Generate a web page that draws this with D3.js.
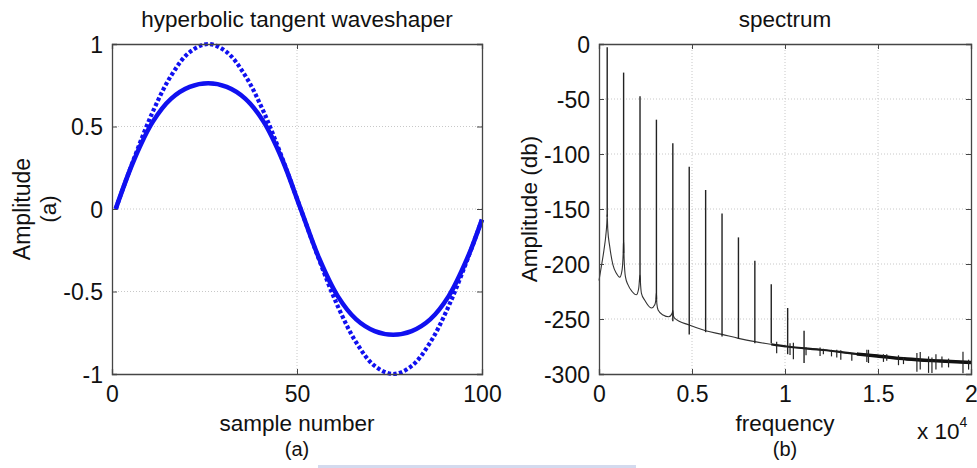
<!DOCTYPE html>
<html>
<head>
<meta charset="utf-8">
<script src="https://cdn.jsdelivr.net/npm/d3@7"></script>
<style>
  html, body { margin: 0; padding: 0; background: #fff; }
  svg { display: block; }
  text { font-family: "Liberation Sans", Arial, Helvetica, sans-serif; fill: #111; }
</style>
</head>
<body>
<svg id="chart" width="977" height="468"></svg>
<script>
// ---------- Data: left panel (waveshaper) ----------
const sampleNumbers = [1, 6, 11, 16, 21, 26, 31, 36, 41, 46, 51, 56, 61, 66, 71, 76, 81, 86, 91, 96, 100];
const inputSine     = [0, 0.309, 0.588, 0.809, 0.951, 1.0, 0.951, 0.809, 0.588, 0.309, 0, -0.309, -0.588, -0.809, -0.951, -1.0, -0.951, -0.809, -0.588, -0.309, -0.063];
const shapedOutput  = [0, 0.300, 0.528, 0.669, 0.740, 0.762, 0.740, 0.669, 0.528, 0.300, 0, -0.300, -0.528, -0.669, -0.740, -0.762, -0.740, -0.669, -0.528, -0.300, -0.063];
const leftXTicks = [0, 50, 100];
const leftYTicks = [-1, -0.5, 0, 0.5, 1];

// ---------- Data: right panel (spectrum) ----------
const harmonicFreqs  = [441, 1323, 2205, 3087, 3969, 4851, 5733, 6615, 7497, 8379, 9261, 10143, 11025];
const harmonicPeakDb = [-3, -26, -47.6, -68.8, -90.3, -111.5, -132.7, -154, -175.8, -197, -218.5, -240, -260.6];
const harmonicBaseDb = [-157, -190, -215, -232, -252, -264, -262, -266, -268, -272, -272, -282, -290];

const floorFreqs = [0, 129, 270, 361, 420, 441, 470, 576, 754, 934, 1115, 1240, 1300, 1323, 1350, 1420, 1562, 1777, 2013, 2137, 2205, 2240, 2282, 2461, 2820, 3000, 3070, 3087, 3110, 3177, 3446, 3753, 3931, 3969, 4000, 4076, 4851, 5733, 6615, 7497, 8379, 9261, 10090, 12063, 13860, 14940, 16553, 18350, 20000];
const floorDb    = [-215, -202, -187, -175, -163, -155, -168, -184, -201, -208.5, -212, -205.5, -190, -178, -195, -211.5, -219, -225, -228, -222, -210, -220, -226.6, -233, -240, -237, -230, -226, -236, -241.8, -246.4, -248, -244.8, -242, -247, -249.4, -255.5, -260.6, -264, -267.6, -270.6, -273, -275, -278.2, -281.8, -283.6, -286.4, -288.2, -289.6];

const noiseFreqs  = [9552, 10270, 10450, 11131, 11885, 12063, 12500, 12784, 13000, 13592, 14400, 14490, 15294, 15470, 16101, 16370, 17092, 17270, 17718, 17900, 18115, 18438, 18793, 19569, 19870];
const noiseHighDb = [-270.6, -272, -271.5, -276, -276, -277, -278, -278, -278.5, -281, -278, -278, -282, -282, -283, -285, -281, -280, -284, -285, -282, -284, -286, -279.7, -287];
const noiseLowDb  = [-281.2, -282.7, -286.6, -283, -283.6, -282, -284, -285, -287, -288, -289, -290, -289, -288, -292, -291, -298, -296, -299, -299, -296, -294, -294, -299.4, -296];

const rightXTicks = [0, 5000, 10000, 15000, 20000];
const rightXTickLabels = ["0", "0.5", "1", "1.5", "2"];
const rightYTicks = [-300, -250, -200, -150, -100, -50, 0];

// ---------- Layout ----------
const svg = d3.select("#chart");
const FONT = 22.5;
const TICKFONT = 23;
const frameColor = "#454545";
const gridColor = "#c8c8c8";

function panel(opts) {
  const { x0, x1, y0, y1, xScale, yScale, xTicks, yTicks } = opts;
  const g = svg.append("g");
  g.selectAll("line.vg").data(xTicks.filter(t => t !== xScale.domain()[0] && t !== xScale.domain()[1]))
    .join("line").attr("x1", d => xScale(d)).attr("x2", d => xScale(d)).attr("y1", y0).attr("y2", y1)
    .attr("stroke", gridColor).attr("stroke-width", 1).attr("stroke-dasharray", "1,2");
  g.selectAll("line.hg").data(yTicks.filter(t => t !== yScale.domain()[0] && t !== yScale.domain()[1]))
    .join("line").attr("y1", d => yScale(d)).attr("y2", d => yScale(d)).attr("x1", x0).attr("x2", x1)
    .attr("stroke", gridColor).attr("stroke-width", 1).attr("stroke-dasharray", "1,2");
  return g;
}

function frame(opts) {
  const { x0, x1, y0, y1, xScale, yScale, xTicks, yTicks, xFmt, yFmt } = opts;
  const g = svg.append("g");
  const tl = 5;
  const bottom = d3.axisBottom(xScale).tickValues(xTicks).tickSize(-tl).tickFormat(xFmt).tickPadding(12);
  const top = d3.axisTop(xScale).tickValues(xTicks).tickSize(-tl).tickFormat("");
  const left = d3.axisLeft(yScale).tickValues(yTicks).tickSize(-tl).tickFormat(yFmt).tickPadding(9);
  const right = d3.axisRight(yScale).tickValues(yTicks).tickSize(-tl).tickFormat("");
  const gb = g.append("g").attr("transform", `translate(0,${y1})`).call(bottom);
  const gt = g.append("g").attr("transform", `translate(0,${y0})`).call(top);
  const gl = g.append("g").attr("transform", `translate(${x0},0)`).call(left);
  const gr = g.append("g").attr("transform", `translate(${x1},0)`).call(right);
  [gb, gt, gl, gr].forEach(a => {
    a.select(".domain").attr("stroke", frameColor).attr("stroke-width", 1.3);
    a.selectAll(".tick line").attr("stroke", frameColor).attr("stroke-width", 1);
    a.selectAll("text").attr("font-size", TICKFONT).attr("fill", "#111")
      .attr("font-family", '"Liberation Sans", Arial, sans-serif');
  });
  gb.selectAll("text").attr("dy", "0.71em");
  gl.selectAll("text").attr("dy", "0.36em");
  return g;
}

// ---------- Left panel ----------
const L = { x0: 112, x1: 482, y0: 44, y1: 374 };
const lx = d3.scaleLinear().domain([0, 100]).range([L.x0, L.x1]);
const ly = d3.scaleLinear().domain([-1, 1]).range([L.y1, L.y0]);
const lopts = { ...L, xScale: lx, yScale: ly, xTicks: leftXTicks, yTicks: leftYTicks,
  xFmt: d => String(d), yFmt: d => String(d) };
panel(lopts);

const leftLine = d3.line().x((d, i) => lx(sampleNumbers[i])).y(d => ly(d)).curve(d3.curveCatmullRom);
const lg = svg.append("g");
lg.append("path").datum(inputSine).attr("d", leftLine)
  .attr("fill", "none").attr("stroke", "#1010f0").attr("stroke-width", 4.2)
  .attr("stroke-dasharray", "3.5,2.3");
lg.append("path").datum(shapedOutput).attr("d", leftLine)
  .attr("fill", "none").attr("stroke", "#1010f0").attr("stroke-width", 4.6)
  .attr("stroke-linejoin", "round");
frame(lopts);

svg.append("text").attr("x", (L.x0 + L.x1) / 2).attr("y", 27).attr("text-anchor", "middle")
  .attr("font-size", FONT).text("hyperbolic tangent waveshaper");
svg.append("text").attr("x", (L.x0 + L.x1) / 2).attr("y", 431).attr("text-anchor", "middle")
  .attr("font-size", FONT).text("sample number");
svg.append("text").attr("x", (L.x0 + L.x1) / 2).attr("y", 456).attr("text-anchor", "middle")
  .attr("font-size", 20).text("(a)");
svg.append("text").attr("transform", `translate(30,${(L.y0 + L.y1) / 2}) rotate(-90)`)
  .attr("text-anchor", "middle").attr("font-size", 23).text("Amplitude");
svg.append("text").attr("transform", `translate(56,${(L.y0 + L.y1) / 2}) rotate(-90)`)
  .attr("text-anchor", "middle").attr("font-size", FONT).text("(a)");

// ---------- Right panel ----------
const R = { x0: 599, x1: 971, y0: 44, y1: 374 };
const rx = d3.scaleLinear().domain([0, 20000]).range([R.x0, R.x1]);
const ry = d3.scaleLinear().domain([-300, 0]).range([R.y1, R.y0]);
const ropts = { ...R, xScale: rx, yScale: ry, xTicks: rightXTicks, yTicks: rightYTicks,
  xFmt: (d, i) => rightXTickLabels[i], yFmt: d => String(d) };
panel(ropts);

const rg = svg.append("g");
const floorLine = d3.line().x((d, i) => rx(floorFreqs[i])).y(d => ry(d)).curve(d3.curveMonotoneX);
rg.append("path").datum(floorDb).attr("d", floorLine)
  .attr("fill", "none").attr("stroke", "#333").attr("stroke-width", 1.1);
const bandLine = d3.line().x(i => rx(floorFreqs[i])).y(i => ry(floorDb[i])).curve(d3.curveMonotoneX);
const bandIdx = floorFreqs.map((f, i) => i).filter(i => floorFreqs[i] >= 9261);
rg.append("path").datum(bandIdx).attr("d", bandLine)
  .attr("fill", "none").attr("stroke", "#1a1a1a").attr("stroke-width", 2.2);
const bandIdx2 = floorFreqs.map((f, i) => i).filter(i => floorFreqs[i] >= 13860);
rg.append("path").datum(bandIdx2).attr("d", bandLine)
  .attr("fill", "none").attr("stroke", "#111").attr("stroke-width", 3.4);

rg.selectAll("line.h").data(harmonicFreqs).join("line")
  .attr("x1", d => rx(d)).attr("x2", d => rx(d))
  .attr("y1", (d, i) => ry(harmonicPeakDb[i])).attr("y2", (d, i) => ry(harmonicBaseDb[i]))
  .attr("stroke", "#222").attr("stroke-width", 1.4);
rg.selectAll("line.n").data(noiseFreqs).join("line")
  .attr("x1", d => rx(d)).attr("x2", d => rx(d))
  .attr("y1", (d, i) => ry(noiseHighDb[i])).attr("y2", (d, i) => ry(noiseLowDb[i]))
  .attr("stroke", "#222").attr("stroke-width", 1.2);
frame(ropts);

svg.append("text").attr("x", (R.x0 + R.x1) / 2).attr("y", 27).attr("text-anchor", "middle")
  .attr("font-size", FONT).text("spectrum");
svg.append("text").attr("x", (R.x0 + R.x1) / 2).attr("y", 431).attr("text-anchor", "middle")
  .attr("font-size", FONT).text("frequency");
svg.append("text").attr("x", (R.x0 + R.x1) / 2).attr("y", 456).attr("text-anchor", "middle")
  .attr("font-size", 20).text("(b)");
svg.append("text").attr("transform", `translate(537,${(R.y0 + R.y1) / 2}) rotate(-90)`)
  .attr("text-anchor", "middle").attr("font-size", FONT).text("Amplitude (db)");
const mult = svg.append("text").attr("x", 917).attr("y", 439).attr("font-size", FONT);
mult.append("tspan").text("x 10");
mult.append("tspan").attr("font-size", 14).attr("dy", -12).text("4");

// faint scan artifact band at the bottom of the page
svg.append("rect").attr("x", 318).attr("y", 465).attr("width", 318).attr("height", 3)
  .attr("fill", "#d3daee");
</script>
</body>
</html>
